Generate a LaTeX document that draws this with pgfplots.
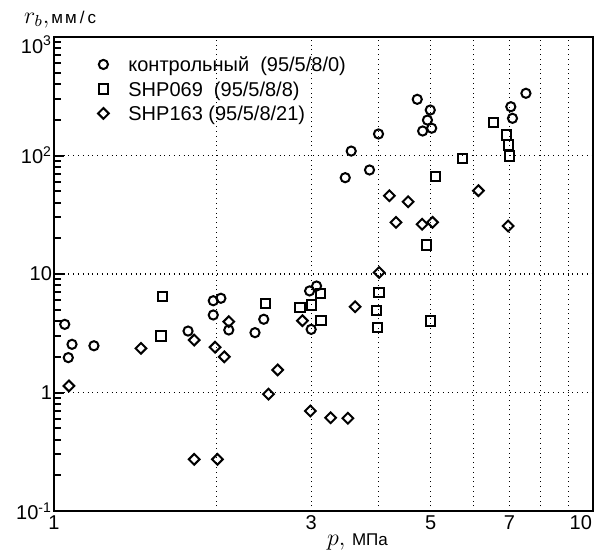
\documentclass[border=0pt]{standalone}
\usepackage{fontspec}
\setmainfont{Liberation Sans}
\usepackage{pgfplots}
\pgfplotsset{compat=1.18}
\begin{document}
\begin{tikzpicture}
\useasboundingbox (-27pt,-21.5pt) rectangle (274pt,255.5pt);
\begin{axis}[
  at={(0,0)}, anchor=south west,
  scale only axis, width=269.5pt, height=237pt,
  xmode=log, ymode=log,
  xmin=1, xmax=10, ymin=0.1, ymax=1000,
  font=\fontsize{10}{12}\selectfont,
  xtick={1,3,5,7}, xticklabels={1,3,5,7},
  extra x ticks={10}, extra x tick labels={10},
  extra x tick style={xticklabel style={anchor=north east, xshift=3pt}, major tick length=0pt},
  minor xtick={2,4,6,8,9},
  xticklabel style={yshift=1.3pt},
  ytick={0.1,1,10,100,1000},
  minor ytick={0.2,0.3,0.4,0.5,0.6,0.7,0.8,0.9,2,3,4,5,6,7,8,9,20,30,40,50,60,70,80,90,200,300,400,500,600,700,800,900},
  yticklabels={10\textsuperscript{-1},1,10,10\textsuperscript{2},\smash{\raisebox{-8.1pt}{10\textsuperscript{3}}}},
  yticklabel style={xshift=2.5pt},
  xtick pos=bottom, ytick pos=left, tick align=inside,
  major tick length=5pt, minor tick length=3.5pt,
  every tick/.style={black, line width=1pt},
  every x tick/.style={draw=none},
  every minor x tick/.style={draw=none},
  every major x tick/.style={draw=none},
  xmajorgrids=true, xminorgrids=true, ymajorgrids=true, yminorgrids=false,
  major grid style={black, dotted, line width=0.6pt},
  minor grid style={black, dotted, line width=0.6pt},
  axis line style={line width=1pt},
  xlabel={\fontsize{12}{14}\selectfont $p,$ \fontsize{8.5}{10}\selectfont МПа},
  every axis x label/.style={at={(rel axis cs:0,0)}, anchor=base west, xshift=133pt, yshift=-17pt},
  ylabel={\fontsize{12}{14}\selectfont $r_b,$\kern1pt \fontsize{8.5}{10}\selectfont м\kern1pt м\kern1.5pt/\kern1.5pt с},
  every axis y label/.style={at={(rel axis cs:0,1)}, anchor=base west, xshift=-18.5pt, yshift=7pt},
  legend cell align=left,
  legend image code/.code={\path[draw=none,fill=none] (-3pt,-1pt) rectangle (3pt,1pt); \draw[only marks,#1] plot coordinates {(0pt,0pt)};},
  legend style={at={(rel axis cs:0,1)}, anchor=north west, xshift=21.5pt, yshift=-7.9pt,
    draw=none, fill=none, inner sep=0pt, column sep=9.5pt, row sep=1pt,
    nodes={inner sep=0pt, text height=9.2pt, text depth=2.04pt},
    font=\fontsize{10}{12}\selectfont},
]
\addplot[only marks, mark=o, mark size=2.3pt, mark options={black, line width=1pt}] coordinates {
(1.047,3.76) (1.08,2.55) (1.063,1.97) (1.186,2.48) (1.773,3.30) (1.975,4.51) (1.975,5.95) (2.04,6.24) (2.11,3.37) (2.36,3.20) (2.45,4.15) (2.98,7.2) (3.07,7.92) (3.0,3.41) (4.72,298) (4.99,242) (4.93,199) (5.02,170) (4.83,161) (4.0,152) (3.56,109) (3.85,75.5) (3.47,65) (7.51,335) (7.04,258) (7.09,206)
};
\addlegendentry{контрольный\ \ (95/5/8/0)}
\addplot[only marks, mark=square, mark size=2.3pt, mark options={black, line width=1pt}] coordinates {
(1.58,3.0) (1.59,6.43) (2.47,5.66) (2.86,5.24) (3.0,5.47) (3.12,6.87) (3.13,4.04) (4.01,7.01) (3.96,4.9) (3.98,3.55) (5.0,4.01) (4.91,17.6) (5.11,66.2) (5.73,94.7) (6.53,190.6) (6.92,149) (6.96,122.6) (6.99,99)
};
\addlegendentry{SHP069\ \ (95/5/8/8)}
\addplot[only marks, mark=square, mark size=1.9pt, mark options={black, line width=1pt, rotate=45}] coordinates {
(1.066,1.135) (1.45,2.36) (1.82,2.77) (1.99,2.41) (2.07,2.0) (2.11,3.96) (2.6,1.55) (2.5,0.97) (2.89,4.04) (3.62,5.3) (4.01,10.3) (1.82,0.273) (2.01,0.273) (2.99,0.698) (3.26,0.613) (3.51,0.606) (4.19,45.8) (4.54,40.7) (4.31,27.3) (4.82,26.3) (5.04,27.3) (6.13,50.5) (6.96,25.4)
};
\addlegendentry{SHP163 (95/5/8/21)}
\end{axis}
\end{tikzpicture}
\end{document}
